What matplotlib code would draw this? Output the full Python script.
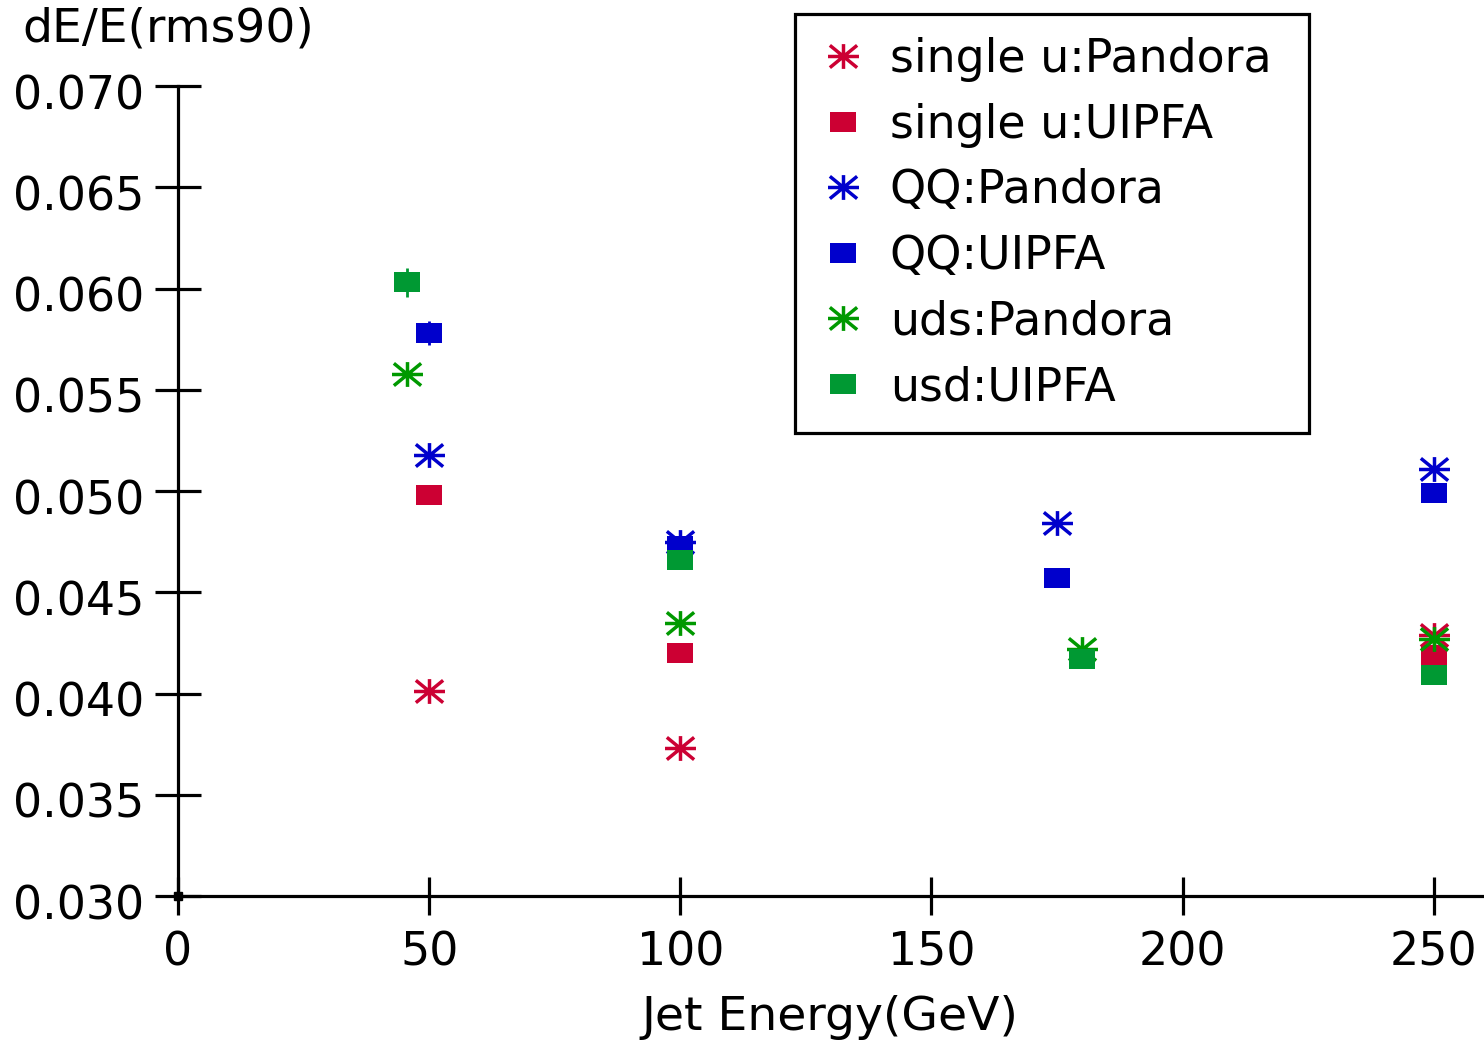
import numpy as np
import matplotlib
matplotlib.use("Agg")
import matplotlib.pyplot as plt
import matplotlib.transforms as mtransforms
from matplotlib.path import Path

# data
su_pandora_x = [50, 100, 250]
su_pandora_y = [0.0401, 0.0373, 0.0429]
su_uipfa_x = [50, 100, 250]
su_uipfa_y = [0.0498, 0.0420, 0.0419]
su_uipfa_err = [0.0004, 0.0002, 0.0002]

qq_pandora_x = [50, 100, 175, 250]
qq_pandora_y = [0.0518, 0.0475, 0.0484, 0.0511]
qq_uipfa_x = [50, 100, 175, 250]
qq_uipfa_y = [0.0578, 0.0473, 0.0457, 0.0499]
qq_uipfa_err = [0.0006, 0.0002, 0.0002, 0.0002]

uds_pandora_x = [45.5, 100, 180, 250]
uds_pandora_y = [0.0558, 0.0435, 0.0422, 0.0427]
uds_uipfa_x = [45.5, 100, 180, 250]
uds_uipfa_y = [0.0603, 0.0466, 0.0417, 0.0409]
uds_uipfa_err = [0.0007, 0.0002, 0.0002, 0.0002]

x_ticks = [0, 50, 100, 150, 200, 250]
y_ticks = [0.030, 0.035, 0.040, 0.045, 0.050, 0.055, 0.060, 0.065, 0.070]

RED = "#CC0033"
BLUE = "#0000CC"
GREEN_STAR = "#009900"
GREEN_SQ = "#009933"

# wide square and wide asterisk like the original
sq_marker = Path([(-1.24, -1), (1.24, -1), (1.24, 1), (-1.24, 1), (-1.24, -1)],
                 [Path.MOVETO, Path.LINETO, Path.LINETO, Path.LINETO, Path.CLOSEPOLY])
star_marker = Path([(-1, 0), (1, 0), (0, -0.8), (0, 0.8),
                    (-0.88, -0.72), (0.88, 0.72), (-0.88, 0.72), (0.88, -0.72)],
                   [Path.MOVETO, Path.LINETO] * 4)

plt.rcParams['font.family'] = ['DejaVu Sans']
FS = 33

fig = plt.figure(figsize=(14.84, 10.42), dpi=100)
ax = fig.add_axes([178 / 1484, 146 / 1042, 1306 / 1484, 810 / 1042])


def stars(x, y, c, label):
    ax.plot(x, y, linestyle='none', marker=star_marker, markersize=22.3,
            markerfacecolor='none', markeredgecolor=c, markeredgewidth=2.5, label=label)


def squares(x, y, err, c, label):
    ax.errorbar(x, y, yerr=err, fmt='none', ecolor=c, elinewidth=2, capsize=0)
    ax.plot(x, y, linestyle='none', marker=sq_marker, markersize=18.7,
            markerfacecolor=c, markeredgewidth=0, label=label)


stars(su_pandora_x, su_pandora_y, RED, "single u:Pandora")
squares(su_uipfa_x, su_uipfa_y, su_uipfa_err, RED, "single u:UIPFA")
stars(qq_pandora_x, qq_pandora_y, BLUE, "QQ:Pandora")
squares(qq_uipfa_x, qq_uipfa_y, qq_uipfa_err, BLUE, "QQ:UIPFA")
stars(uds_pandora_x, uds_pandora_y, GREEN_STAR, "uds:Pandora")
squares(uds_uipfa_x, uds_uipfa_y, uds_uipfa_err, GREEN_SQ, "usd:UIPFA")

# little black dot at the origin
ax.plot([0], [0.030], linestyle='none', marker='s', markersize=6, color='black', clip_on=False)

ax.set_xlim(0, 260)
ax.set_ylim(0.030, 0.070)
ax.set_xticks(x_ticks)
ax.set_yticks(y_ticks)
ax.set_yticklabels(["%.3f" % v for v in y_ticks])
ax.tick_params(axis='x', direction='inout', length=27, width=2.3, pad=11, labelsize=FS)
ax.tick_params(axis='y', direction='inout', length=33, width=2.3, pad=8, labelsize=FS)
# y labels sit a little below their ticks in the original
shift = mtransforms.ScaledTranslation(0, -4 / 72, fig.dpi_scale_trans)
for lab in ax.get_yticklabels():
    lab.set_transform(lab.get_transform() + shift)
for s in ['top', 'right']:
    ax.spines[s].set_visible(False)
for s in ['left', 'bottom']:
    ax.spines[s].set_linewidth(2.3)
    ax.spines[s].set_clip_on(False)

fig.text(22 / 1484, 1 - 42 / 1042, "dE/E(rms90)", fontsize=34, ha='left', va='baseline')
fig.text(830 / 1484, 1 - 1030 / 1042, "Jet Energy(GeV)", fontsize=34, ha='center', va='baseline')

leg = ax.legend(loc='upper left',
                bbox_to_anchor=(795 / 1484, 1 - 432 / 1042, 514 / 1484, 418 / 1042),
                bbox_transform=fig.transFigure, mode='expand', frameon=True, fancybox=False,
                edgecolor='black', framealpha=1, borderpad=0.5, labelspacing=0.45,
                handlelength=1.1, handletextpad=0.47, borderaxespad=0, numpoints=1,
                fontsize=FS)
leg.get_frame().set_linewidth(2.3)

fig.savefig("out.png", dpi=100)
